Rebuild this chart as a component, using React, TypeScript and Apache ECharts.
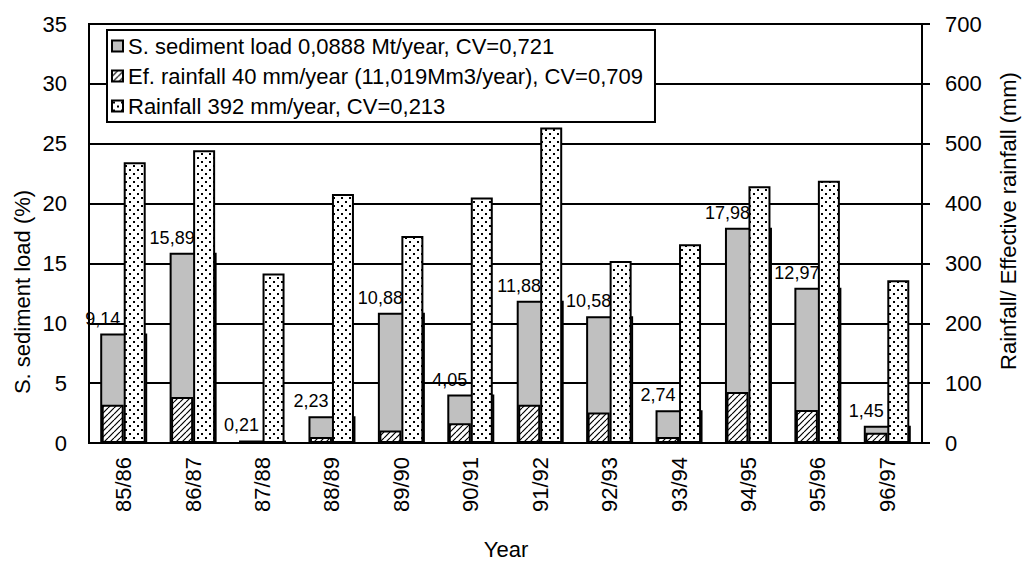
import React, { useEffect, useRef } from "react";
import * as echarts from "echarts";

const years = ["85/86", "86/87", "87/88", "88/89", "89/90", "90/91", "91/92", "92/93", "93/94", "94/95", "95/96", "96/97"];
const sedimentLoad = [9.14, 15.89, 0.21, 2.23, 10.88, 4.05, 11.88, 10.58, 2.74, 17.98, 12.97, 1.45];
const effRainfall = [64, 77, 2, 10, 21, 33, 64, 51, 10, 85, 55, 17];
const rainfall = [469, 489, 283, 416, 346, 410, 527, 304, 332, 429, 438, 272];
const seriesNames = [
  "S. sediment load 0,0888 Mt/year, CV=0,721",
  "Ef. rainfall 40 mm/year (11,019Mm3/year), CV=0,709",
  "Rainfall 392 mm/year, CV=0,213",
];
const leftAxis = { min: 0, max: 35, interval: 5, name: "S. sediment load (%)" };
const rightAxis = { min: 0, max: 700, interval: 100, name: "Rainfall/ Effective rainfall (mm)" };
const xAxisName = "Year";

const FONT = "'Liberation Sans', Arial, sans-serif";

function dotCanvas(): HTMLCanvasElement {
  const c = document.createElement("canvas");
  c.width = 8;
  c.height = 8;
  const ctx = c.getContext("2d")!;
  ctx.fillStyle = "#fff";
  ctx.fillRect(0, 0, 8, 8);
  ctx.fillStyle = "#000";
  ctx.fillRect(1, 1, 2, 2);
  ctx.fillRect(5, 5, 2, 2);
  return c;
}

function hatchCanvas(): HTMLCanvasElement {
  const c = document.createElement("canvas");
  c.width = 6;
  c.height = 6;
  const ctx = c.getContext("2d")!;
  ctx.fillStyle = "#fff";
  ctx.fillRect(0, 0, 6, 6);
  ctx.strokeStyle = "#000";
  ctx.lineWidth = 1.2;
  for (let i = -1; i <= 1; i++) {
    ctx.beginPath();
    ctx.moveTo(i * 6, 6);
    ctx.lineTo(i * 6 + 6, 0);
    ctx.stroke();
  }
  return c;
}

export default function App() {
  const ref = useRef<HTMLDivElement>(null);
  useEffect(() => {
    if (!ref.current) return;
    const chart = echarts.init(ref.current, undefined, { renderer: "svg" });
    const dots = dotCanvas();
    const hatch = hatchCanvas();
    const dotPattern: any = { image: dots, repeat: "repeat", imageWidth: 8, imageHeight: 8 };
    const hatchPattern: any = { image: hatch, repeat: "repeat", imageWidth: 6, imageHeight: 6 };
    const legendIconStyle = { borderColor: "#000", borderWidth: 2 };

    chart.setOption({
      animation: false,
      backgroundColor: "#fff",
      textStyle: { fontFamily: FONT, color: "#000" },
      grid: {
        left: 89,
        right: 100,
        top: 24,
        bottom: 119,
        show: true,
        borderColor: "#000",
        borderWidth: 2,
        containLabel: false,
      },
      legend: {
        orient: "vertical",
        left: 107,
        top: 30,
        data: seriesNames.map((n) => ({ name: n, itemStyle: legendIconStyle })),
        icon: "rect",
        itemWidth: 11,
        itemHeight: 11,
        itemGap: 8,
        padding: [5, 12, 5, 4],
        backgroundColor: "#fff",
        borderColor: "#000",
        borderWidth: 2,
        itemStyle: legendIconStyle,
        textStyle: { fontFamily: FONT, fontSize: 22, color: "#000", lineHeight: 22 },
      },
      xAxis: [
        {
          type: "category",
          data: years,
          position: "bottom",
          axisLine: { show: true, lineStyle: { color: "#000", width: 2 } },
          axisTick: { show: false },
          axisLabel: { rotate: 90, margin: 14, fontSize: 22, color: "#000", fontFamily: FONT },
          splitLine: { show: false },
        },
        {
          type: "category",
          data: years,
          position: "bottom",
          show: false,
        },
      ],
      yAxis: [
        {
          type: "value",
          min: leftAxis.min,
          max: leftAxis.max,
          interval: leftAxis.interval,
          position: "left",
          axisLine: { show: true, lineStyle: { color: "#000", width: 2 } },
          axisTick: { show: false },
          axisLabel: { fontSize: 22, color: "#000", margin: 22, fontFamily: FONT },
          splitLine: { show: true, lineStyle: { color: "#000", width: 2 } },
        },
        {
          type: "value",
          min: rightAxis.min,
          max: rightAxis.max,
          interval: rightAxis.interval,
          position: "right",
          axisLine: { show: true, lineStyle: { color: "#000", width: 2 } },
          axisTick: { show: true, inside: false, length: 8, lineStyle: { color: "#000", width: 2 } },
          axisLabel: { fontSize: 22, color: "#000", margin: 23, fontFamily: FONT },
          splitLine: { show: false },
        },
      ],
      graphic: [
        {
          type: "text",
          x: 22,
          y: 292,
          rotation: Math.PI / 2,
          style: {
            text: leftAxis.name,
            fontSize: 22,
            fontFamily: FONT,
            fill: "#000",
            align: "center",
            verticalAlign: "middle",
          },
        },
        {
          type: "text",
          x: 1008,
          y: 221,
          rotation: Math.PI / 2,
          style: {
            text: rightAxis.name,
            fontSize: 22,
            fontFamily: FONT,
            fill: "#000",
            align: "center",
            verticalAlign: "middle",
          },
        },
        {
          type: "text",
          x: 506,
          y: 549,
          style: {
            text: xAxisName,
            fontSize: 22,
            fontFamily: FONT,
            fill: "#000",
            align: "center",
            verticalAlign: "middle",
          },
        },
      ],
      series: [
        {
          name: seriesNames[0],
          type: "bar",
          xAxisIndex: 1,
          yAxisIndex: 0,
          data: sedimentLoad,
          barWidth: 47,
          z: 2,
          itemStyle: { color: "#c0c0c0", borderColor: "#000", borderWidth: 2 },
          label: {
            show: true,
            position: "top",
            distance: 6,
            offset: [-21, 0],
            fontSize: 18,
            fontFamily: FONT,
            color: "#000",
            formatter: (p: any) => Number(p.value).toFixed(2).replace(".", ","),
          },
        },
        {
          name: seriesNames[1],
          type: "bar",
          xAxisIndex: 0,
          yAxisIndex: 1,
          data: effRainfall,
          barWidth: 22,
          barGap: "0%",
          z: 3,
          itemStyle: { color: hatchPattern, borderColor: "#000", borderWidth: 2 },
        },
        {
          name: seriesNames[2],
          type: "bar",
          xAxisIndex: 0,
          yAxisIndex: 1,
          data: rainfall,
          barWidth: 22,
          barGap: "0%",
          z: 3,
          itemStyle: { color: dotPattern, borderColor: "#000", borderWidth: 2 },
        },
      ],
    });
    return () => chart.dispose();
  }, []);
  return (
    <div
      ref={ref}
      style={{ position: "fixed", left: 0, top: 0, width: 1022, height: 562, background: "#fff" }}
    />
  );
}
